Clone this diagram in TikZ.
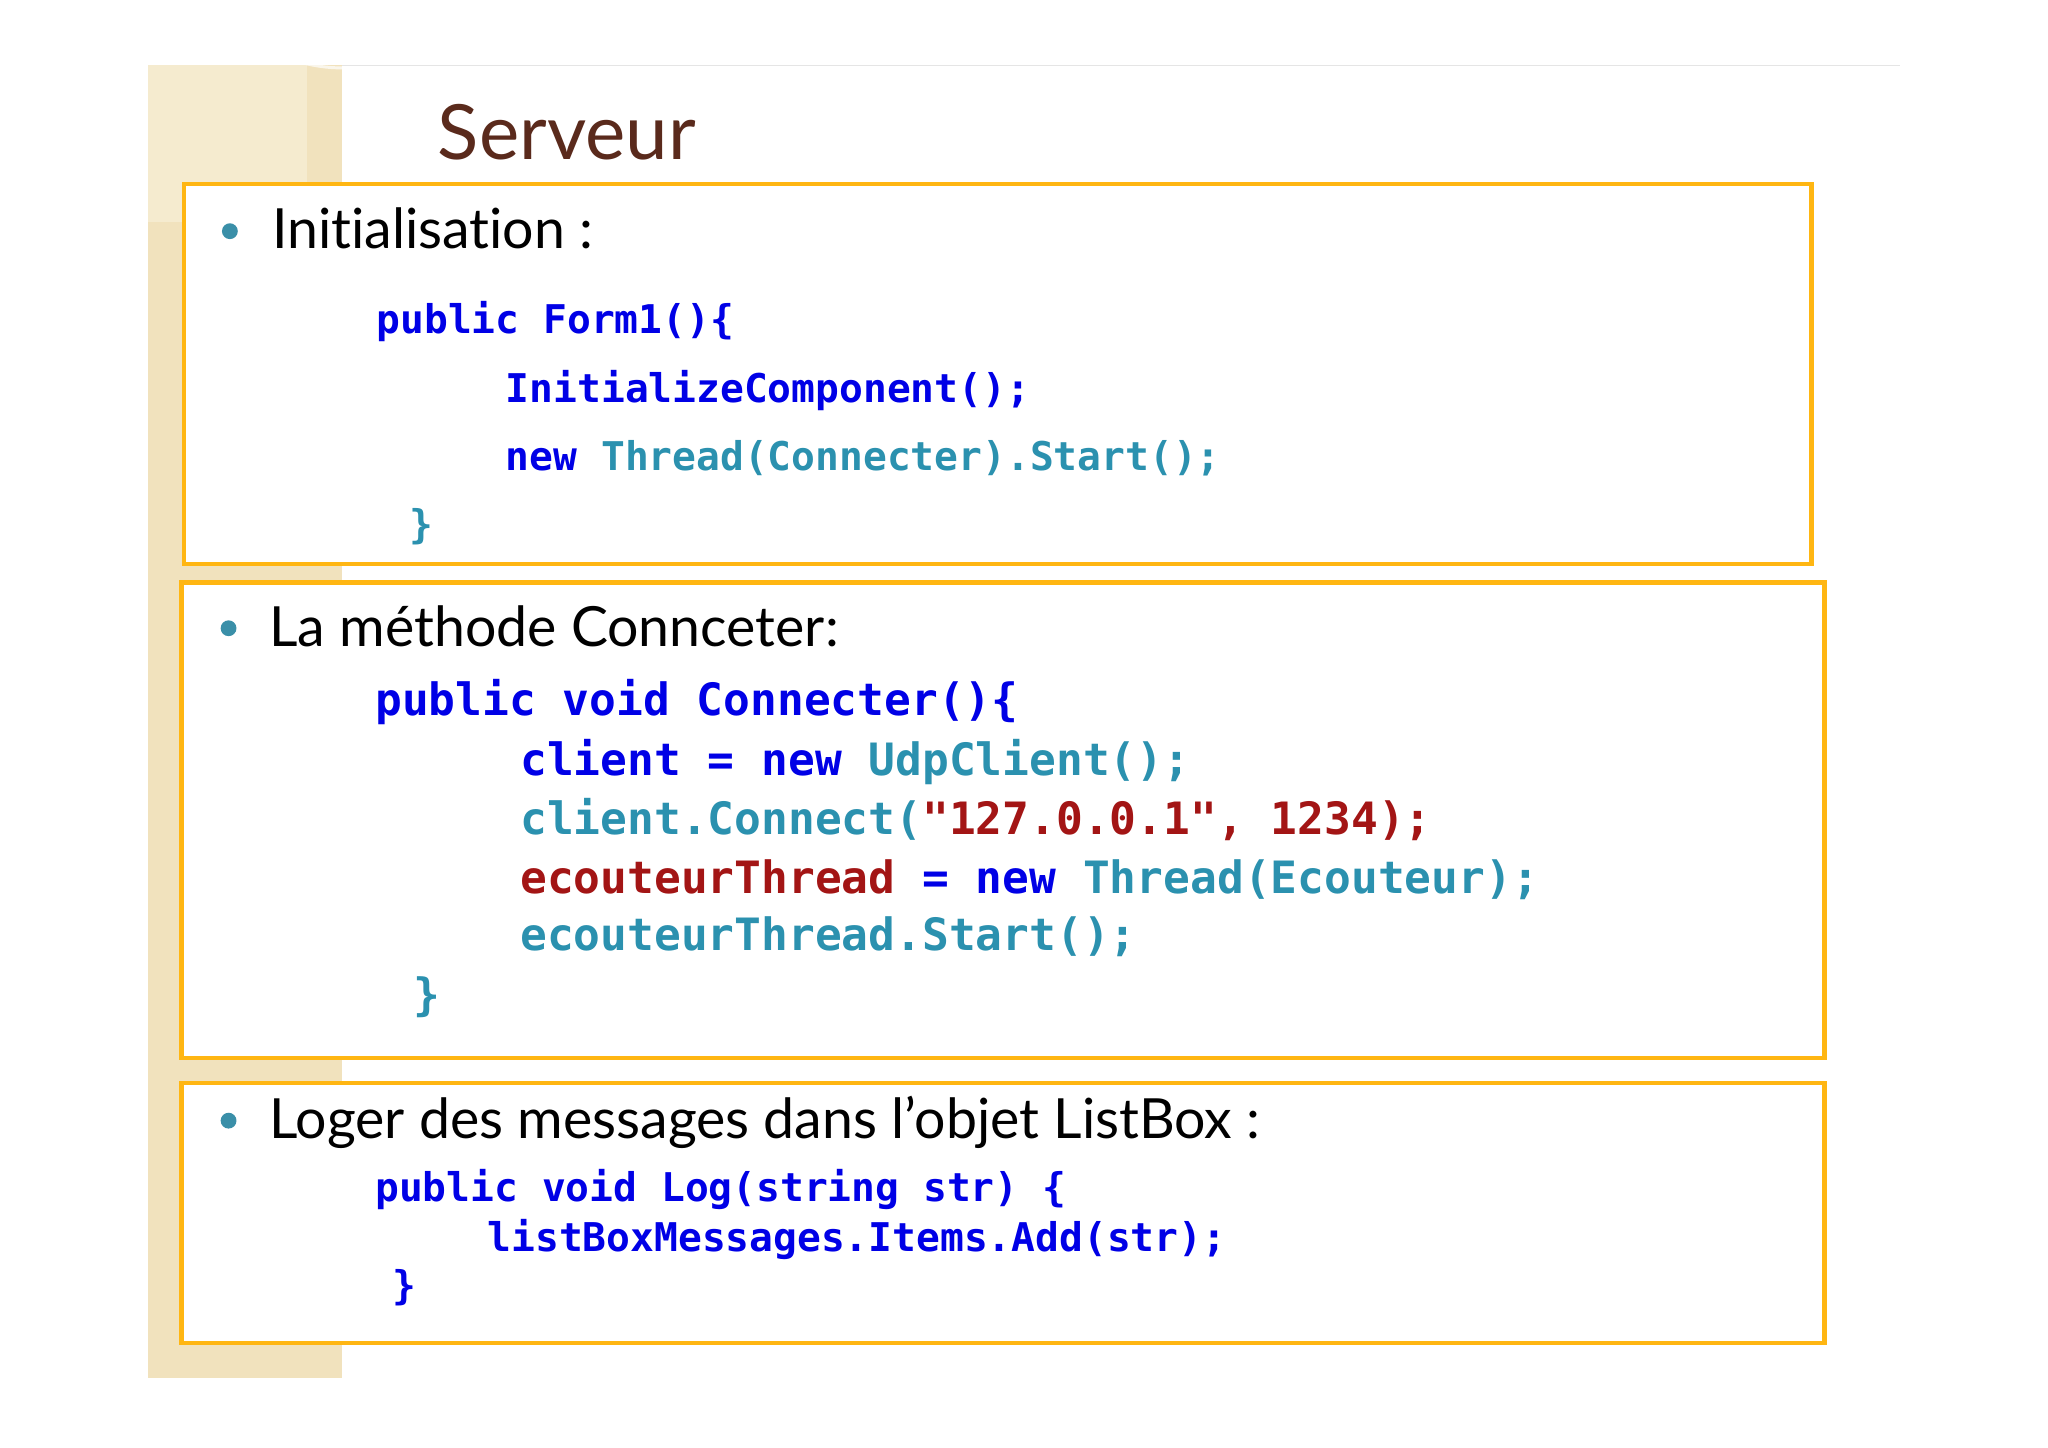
\documentclass[tikz,border=0pt]{standalone}
\usepackage{fontspec}
\setmainfont{Lato}[Ligatures={NoCommon,NoRare,NoDiscretionary}]
\newfontfamily\codefont{DejaVu Sans Mono}[BoldFont={DejaVu Sans Mono Bold}]
\definecolor{kw}{HTML}{0000E6}
\definecolor{ty}{HTML}{2B91AF}
\definecolor{st}{HTML}{A31515}
\definecolor{org}{HTML}{FFB612}
\definecolor{stripe}{HTML}{F1E2BD}
\definecolor{stripelt}{HTML}{F5EBCF}
\definecolor{ttl}{HTML}{5A2A1C}
\definecolor{bul}{HTML}{3A8FA8}
\begin{document}
\begin{tikzpicture}[x=0.66pt,y=-0.66pt,
  frame/.style={draw=org,fill=white,line width=2.2pt},
  txt/.style={anchor=base west,inner sep=0pt,font=\fontsize{28}{32}\selectfont},
  codea/.style={anchor=base west,inner sep=0pt,font=\codefont\bfseries\fontsize{20}{24}\selectfont},
  codeb/.style={anchor=base west,inner sep=0pt,font=\codefont\bfseries\fontsize{22.5}{26}\selectfont},
  bullet/.style={circle,fill=bul,inner sep=0pt,minimum size=8pt}]
\useasboundingbox (0,0) rectangle (1568,1108);
\fill[white] (0,0) rectangle (1568,1108);
% stripe
\fill[stripe] (113,50) rectangle (262,1055);
\fill[stripelt] (113,50) rectangle (235,170);
\draw[white,line width=1.5pt,opacity=0.7] (262,52) arc[start angle=90,end angle=180,radius=118];
\draw[gray!20] (262,50) -- (1455,50);
\node[anchor=base west,inner sep=0pt,text=ttl,font=\fontsize{38.5}{42}\selectfont] (title) at (335,122) {Serveur};
% box 1
\draw[frame] (141,141) rectangle (1387,432);
\node[bullet] (b1) at (176,177) {};
\node[txt] (t1) at (208,190) {Initialisation :};
\node[codea,text=kw] (c11) at (288,255) {public Form1()\{};
\node[codea,text=kw] (c12) at (387,308) {InitializeComponent();};
\node[codea] (c13) at (387,360) {\textcolor{kw}{new} \textcolor{ty}{Thread(Connecter).Start();}};
\node[codea,text=ty] (c14) at (313,412) {\}};
% box 2
\draw[frame] (139,446) rectangle (1397,810);
\node[bullet] (b2) at (175,481) {};
\node[txt] (t2) at (206,495) {La méthode Connceter:};
\node[codeb,text=kw] (c21) at (287,548) {public void Connecter()\{};
\node[codeb] (c22) at (398,594) {\textcolor{kw}{client = new} \textcolor{ty}{UdpClient();}};
\node[codeb] (c23) at (398,639) {\textcolor{ty}{client.Connect(}\textcolor{st}{"127.0.0.1", 1234);}};
\node[codeb] (c24) at (398,684) {\textcolor{st}{ecouteurThread} \textcolor{kw}{= new} \textcolor{ty}{Thread(Ecouteur);}};
\node[codeb,text=ty] (c25) at (398,728) {ecouteurThread.Start();};
\node[codeb,text=ty] (c26) at (316,774) {\}};
% box 3
\draw[frame] (139,829) rectangle (1397,1028);
\node[bullet] (b3) at (175,858) {};
\node[txt] (t3) at (206,872) {Loger des messages dans l’objet ListBox :};
\node[codea,text=kw] (c31) at (287,920) {public void Log(string str) \{};
\node[codea,text=kw] (c32) at (373,958) {listBoxMessages.Items.Add(str);};
\node[codea,text=kw] (c33) at (300,995) {\}};
\end{tikzpicture}
\end{document}
